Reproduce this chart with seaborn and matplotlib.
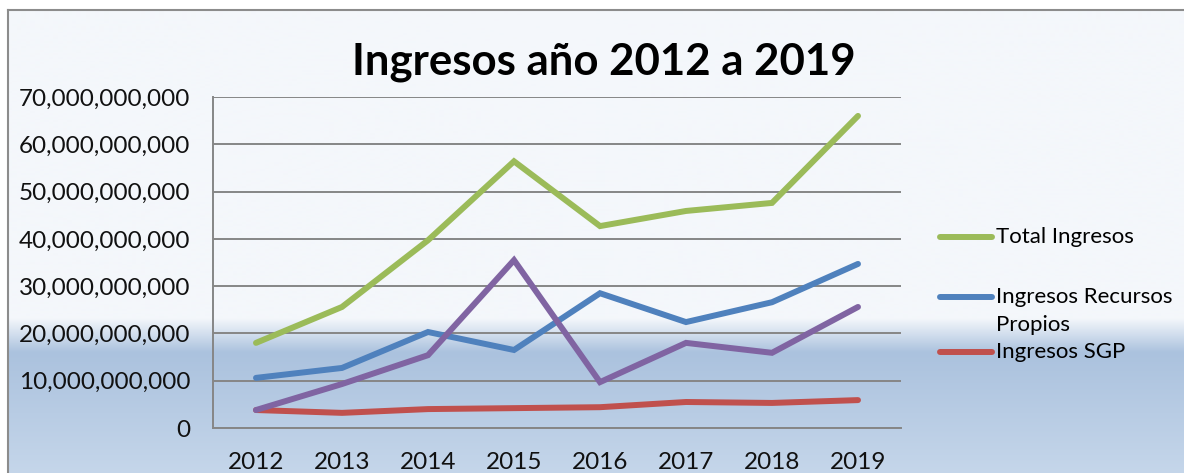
import matplotlib
matplotlib.use("Agg")
import matplotlib.pyplot as plt
import matplotlib.colors as mcolors
from matplotlib.lines import Line2D
import matplotlib.ticker as mticker
import numpy as np
import pandas as pd
import seaborn as sns

# data
years = ["2012", "2013", "2014", "2015", "2016", "2017", "2018", "2019"]
total_ingresos = [18.0e9, 25.6e9, 39.7e9, 56.4e9, 42.7e9, 45.9e9, 47.6e9, 66.0e9]
recursos_propios = [10.6e9, 12.7e9, 20.3e9, 16.5e9, 28.5e9, 22.4e9, 26.6e9, 34.7e9]
ingresos_sgp = [3.8e9, 3.2e9, 4.0e9, 4.2e9, 4.4e9, 5.5e9, 5.3e9, 5.9e9]
otros_ingresos = [3.8e9, 9.3e9, 15.4e9, 35.5e9, 9.7e9, 18.0e9, 15.9e9, 25.6e9]

series_names = ["Total Ingresos", "Ingresos Recursos Propios", "Ingresos SGP", "Otros"]
legend_labels = ["Total Ingresos", "Ingresos Recursos\nPropios", "Ingresos SGP"]
colors = ["#9bbb59", "#4f81bd", "#c0504d", "#8064a2"]

df = pd.DataFrame({
    "year": years * 4,
    "value": total_ingresos + recursos_propios + ingresos_sgp + otros_ingresos,
    "serie": np.repeat(series_names, len(years)),
})

sns.set_style("white")
plt.rcParams["font.family"] = ["Lato", "DejaVu Sans"]

W, H = 1184, 473
fig = plt.figure(figsize=(W / 100, H / 100), dpi=100)
fig.patch.set_facecolor("white")

# chart-area background: white-ish top, blue gradient lower part
bg = fig.add_axes([8 / W, 0, 1 - 8 / W, (H - 10) / H], zorder=0)
rows = np.arange(H - 10)
stops_y = [0, 308, 342, H - 10]
stops_c = [mcolors.to_rgb(c) for c in ["#f4f7fb", "#f4f7fb", "#abc2de", "#c5d6ea"]]
grad = np.stack([np.interp(rows, stops_y, [c[i] for c in stops_c]) for i in range(3)], axis=1)
bg.imshow(grad[:, None, :], aspect="auto", extent=[0, 1, 0, 1])
bg.set_xticks([])
bg.set_yticks([])
for side in ["right", "bottom"]:
    bg.spines[side].set_visible(False)
for side in ["left", "top"]:
    bg.spines[side].set_color("#8c8c8c")
    bg.spines[side].set_linewidth(1.5)

ax = fig.add_axes([213 / W, (H - 428) / H, (901 - 213) / W, (428 - 97) / H], zorder=1)
ax.patch.set_alpha(0)

sns.lineplot(data=df, x="year", y="value", hue="serie", palette=colors,
             linewidth=4.3, sort=False, legend=False, ax=ax,
             solid_capstyle="round", solid_joinstyle="miter")

ax.set_xlim(-0.5, 7.5)
ax.set_ylim(0, 70e9)
ax.set_yticks(np.arange(0, 70e9 + 1, 10e9))
ax.yaxis.set_major_formatter(mticker.FuncFormatter(lambda v, p: f"{v:,.0f}"))
ax.grid(axis="y", color="#868686", linewidth=1.4)
ax.set_axisbelow(True)
ax.set_xlabel("")
ax.set_ylabel("")
for side in ["top", "right"]:
    ax.spines[side].set_visible(False)
for side in ["left", "bottom"]:
    ax.spines[side].set_color("#868686")
    ax.spines[side].set_linewidth(1.4)
ax.tick_params(axis="y", length=0, pad=16.5, labelsize=17.5, labelcolor="#111111")
ax.tick_params(axis="x", length=0, pad=17, labelsize=17.5, labelcolor="#111111")

fig.text(604 / W, 1 - 62 / H, "Ingresos año 2012 a 2019", ha="center", va="center",
         fontsize=31.5, fontweight="bold", color="black")

# legend (only three entries shown in the original)
leg_y = [237, 297, 352]
for lab, col, yy in zip(legend_labels, colors, leg_y):
    fig.add_artist(Line2D([940 / W, 992 / W], [1 - yy / H] * 2, color=col,
                          linewidth=4.3, solid_capstyle="round", transform=fig.transFigure))
    for k, line in enumerate(lab.split("\n")):
        fig.text(996 / W, 1 - (yy + 28 * k) / H, line, ha="left", va="center",
                 fontsize=16, color="black")

fig.savefig("out.png", dpi=100)
